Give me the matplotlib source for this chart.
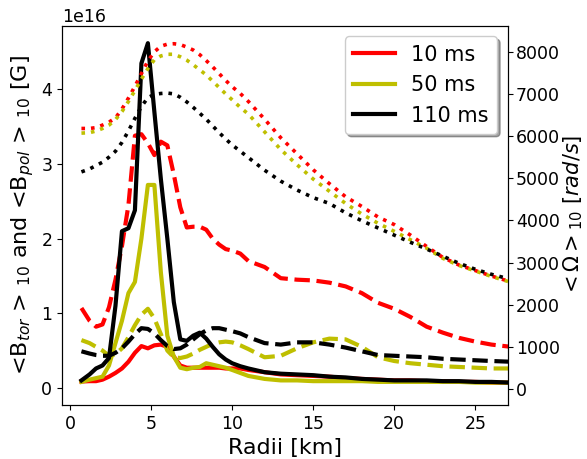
import matplotlib
matplotlib.use("Agg")
import matplotlib.pyplot as plt
import numpy as np
from matplotlib.lines import Line2D

# radial grid [km]
radii = [0.7, 1.2, 1.6, 2.0, 2.4, 2.8, 3.2, 3.6, 4.0, 4.4, 4.8, 5.2, 5.6, 6.0,
         6.4, 6.8, 7.2, 7.6, 8.0, 8.4, 8.8, 9.2, 9.6, 10.0, 10.5, 11, 12, 13,
         14, 15, 16, 17, 18, 19, 20, 21, 22, 23, 24, 25, 26, 27.2]

# toroidal field, units of 1e16 G
btor_10 = [0.085, 0.09, 0.09, 0.11, 0.15, 0.2, 0.26, 0.35, 0.47, 0.56, 0.53, 0.57,
           0.58, 0.55, 0.42, 0.3, 0.27, 0.27, 0.27, 0.27, 0.27, 0.27, 0.26, 0.26,
           0.26, 0.24, 0.21, 0.18, 0.17, 0.16, 0.15, 0.13, 0.12, 0.11, 0.1, 0.1,
           0.09, 0.09, 0.08, 0.08, 0.07, 0.07]
btor_50 = [0.08, 0.11, 0.13, 0.15, 0.3, 0.6, 0.9, 1.27, 1.42, 2.0, 2.72, 2.72,
           1.55, 0.7, 0.42, 0.27, 0.25, 0.27, 0.28, 0.33, 0.31, 0.29, 0.27, 0.24,
           0.2, 0.16, 0.12, 0.1, 0.1, 0.09, 0.09, 0.09, 0.09, 0.08, 0.08, 0.08,
           0.08, 0.08, 0.08, 0.07, 0.07, 0.07]
btor_110 = [0.1, 0.18, 0.26, 0.3, 0.4, 1.1, 2.1, 2.14, 2.38, 4.35, 4.62, 3.7,
            2.8, 2.0, 1.15, 0.65, 0.63, 0.7, 0.74, 0.66, 0.55, 0.45, 0.38, 0.33,
            0.29, 0.26, 0.21, 0.19, 0.18, 0.17, 0.15, 0.14, 0.12, 0.11, 0.1, 0.1,
            0.1, 0.09, 0.09, 0.08, 0.08, 0.07]

# poloidal field, units of 1e16 G
bpol_10 = [1.07, 0.9, 0.82, 0.85, 1.08, 1.45, 1.9, 2.45, 3.38, 3.4, 3.28, 3.12,
           3.3, 3.25, 2.86, 2.42, 2.15, 2.16, 2.16, 2.12, 2.0, 1.92, 1.86, 1.84,
           1.8, 1.7, 1.62, 1.47, 1.45, 1.44, 1.41, 1.36, 1.27, 1.14, 1.06, 0.95,
           0.82, 0.74, 0.67, 0.62, 0.58, 0.55]
bpol_50 = [0.64, 0.6, 0.55, 0.5, 0.43, 0.45, 0.53, 0.68, 0.84, 0.98, 1.06, 0.93,
           0.72, 0.5, 0.41, 0.4, 0.42, 0.46, 0.51, 0.55, 0.59, 0.61, 0.62, 0.61,
           0.57, 0.52, 0.41, 0.43, 0.53, 0.61, 0.66, 0.65, 0.55, 0.41, 0.36, 0.33,
           0.31, 0.29, 0.28, 0.27, 0.26, 0.26]
bpol_110 = [0.49, 0.46, 0.44, 0.43, 0.43, 0.47, 0.53, 0.62, 0.72, 0.8, 0.79, 0.73,
            0.64, 0.56, 0.52, 0.53, 0.58, 0.65, 0.72, 0.77, 0.8, 0.8, 0.78, 0.76,
            0.73, 0.68, 0.6, 0.58, 0.61, 0.61, 0.58, 0.54, 0.49, 0.44, 0.43, 0.42,
            0.41, 0.39, 0.38, 0.37, 0.36, 0.35]

# angular velocity [rad/s]
omega_10 = [6180, 6180, 6200, 6260, 6330, 6430, 6640, 6900, 7180, 7480, 7780, 8000,
            8130, 8180, 8190, 8170, 8110, 8040, 7930, 7790, 7640, 7480, 7320, 7170,
            7010, 6820, 6400, 5960, 5580, 5200, 4870, 4560, 4330, 4080, 3900, 3650,
            3380, 3120, 2940, 2810, 2680, 2540]
omega_50 = [6070, 6080, 6120, 6180, 6260, 6390, 6580, 6820, 7080, 7350, 7600, 7810,
            7900, 7940, 7940, 7880, 7800, 7690, 7570, 7450, 7300, 7150, 7000, 6860,
            6680, 6520, 6100, 5680, 5320, 4980, 4690, 4400, 4150, 3930, 3740, 3540,
            3340, 3100, 2930, 2800, 2670, 2530]
omega_110 = [5150, 5220, 5300, 5380, 5500, 5640, 5850, 6120, 6420, 6700, 6910, 6990,
             7010, 7020, 7000, 6920, 6810, 6680, 6540, 6400, 6240, 6080, 5930, 5790,
             5640, 5490, 5190, 4930, 4720, 4540, 4400, 4180, 3990, 3820, 3650, 3480,
             3320, 3150, 2980, 2840, 2720, 2600]

times = ["10 ms", "50 ms", "110 ms"]
colors = ["r", "y", "k"]

r = np.array(radii)

fig = plt.figure(figsize=(5.87, 4.59), dpi=100)
ax = fig.add_axes([0.1056, 0.1176, 0.7593, 0.8257])
ax2 = ax.twinx()

for btor, bpol, om, c in zip([btor_10, btor_50, btor_110],
                             [bpol_10, bpol_50, bpol_110],
                             [omega_10, omega_50, omega_110], colors):
    ax.plot(r, np.array(btor) * 1e16, color=c, lw=3)
    ax.plot(r, np.array(bpol) * 1e16, color=c, lw=3, ls="--")
    ax2.plot(r, om, color=c, lw=2.6, ls=":")

ax.set_xlim(-0.5, 27)
ax.set_ylim(-0.23e16, 4.85e16)
ax2.set_ylim(-380, 8610)

ax.set_xlabel("Radii [km]", fontsize=16)
ax.set_ylabel(r"<B$_{tor}$ > $_{10}$ and <B$_{pol}$ > $_{10}$ [G]", fontsize=16)
ax2.set_ylabel(r"$<\Omega>_{10}$ $[rad/s]$", fontsize=15, labelpad=1)

ax.tick_params(labelsize=12.5)
ax2.tick_params(labelsize=12.5, pad=2.5)
ax.yaxis.get_offset_text().set_fontsize(12.5)

handles = [Line2D([], [], color=c, lw=3) for c in colors]
ax2.legend(handles, times, loc="upper right", fontsize=15, shadow=True)

fig.savefig("out.png", dpi=100)
